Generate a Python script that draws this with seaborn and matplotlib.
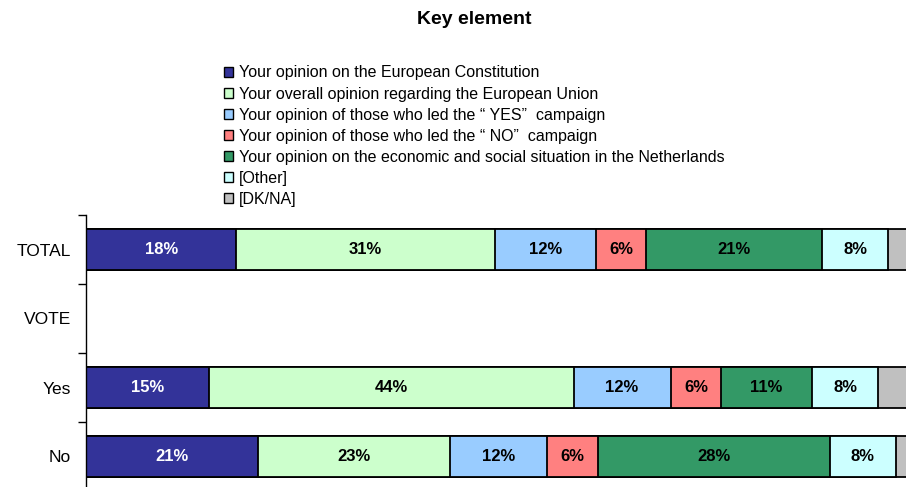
import pandas as pd
import numpy as np
import matplotlib
matplotlib.use('Agg')
import matplotlib.pyplot as plt
from matplotlib.patches import Patch
import seaborn as sns

# Data (segment widths estimated, labels rounded)
groups = ['TOTAL', 'Yes', 'No']
row_order = ['TOTAL', 'VOTE', 'Yes', 'No']
opinion_constitution = [18.0, 14.7, 20.6]
opinion_eu = [31.0, 43.7, 23.0]
yes_campaign = [12.1, 11.6, 11.6]
no_campaign = [6.0, 6.1, 6.1]
econ_social = [21.0, 10.8, 27.8]
other = [8.0, 8.0, 7.9]
dk_na = [4.0, 5.0, 3.0]

series_names = ['Your opinion on the European Constitution',
                'Your overall opinion regarding the European Union',
                'Your opinion of those who led the \u201c YES\u201d  campaign',
                'Your opinion of those who led the \u201c NO\u201d  campaign',
                'Your opinion on the economic and social situation in the Netherlands',
                '[Other]',
                '[DK/NA]']
series_values = [opinion_constitution, opinion_eu, yes_campaign, no_campaign,
                 econ_social, other, dk_na]
colors = ['#333399', '#CCFFCC', '#99CCFF', '#FF8080', '#339966', '#CCFFFF', '#C0C0C0']

sns.set_theme(style='white')
plt.rcParams['font.family'] = ['Liberation Sans', 'DejaVu Sans']
plt.rcParams['text.color'] = 'black'
plt.rcParams['ytick.color'] = 'black'

fig = plt.figure(figsize=(9.06, 4.87), dpi=100)
ax = fig.add_axes([86 / 906, -4 / 487, 835 / 906, 276 / 487])

vals = np.array(series_values, dtype=float)
cums = vals.cumsum(axis=0)

# stacked bars: draw cumulative totals from the longest to the shortest
for i in range(len(series_names) - 1, -1, -1):
    df = pd.DataFrame({'group': groups, 'value': cums[i]})
    sns.barplot(data=df, x='value', y='group', order=row_order, orient='h',
                color=colors[i], saturation=1, edgecolor='black', linewidth=1.3,
                width=0.6, ax=ax)

# value labels (DK/NA falls off the picture)
for i in range(len(series_names) - 1):
    for j, g in enumerate(groups):
        y = row_order.index(g)
        x = cums[i][j] - vals[i][j] / 2
        ax.text(x, y, f'{round(vals[i][j]):.0f}%', ha='center', va='center',
                fontsize=12, fontweight='bold',
                color='white' if i == 0 else 'black')

ax.set_xlim(0, 100)
ax.set_ylim(3.5, -0.5)
ax.set_xlabel('')
ax.set_ylabel('')
ax.set_xticks([])
for s in ['top', 'right', 'bottom']:
    ax.spines[s].set_visible(False)
ax.spines['left'].set_color('black')
ax.spines['left'].set_linewidth(1)
ax.set_yticks(range(len(row_order)))
ax.set_yticklabels(row_order, fontsize=12.5, color='black')
ax.set_yticks([-0.5, 0.5, 1.5, 2.5, 3.5], minor=True)
ax.tick_params(axis='y', which='major', length=0, pad=11)
ax.tick_params(axis='y', which='minor', length=6, width=1, color='black', left=True)

handles = [Patch(facecolor=c, edgecolor='black', linewidth=1) for c in colors]
fig.legend(handles, series_names, loc='upper left', bbox_to_anchor=(224 / 906, 1 - 65.5 / 487),
           frameon=False, fontsize=11.5, handlelength=0.58, handleheight=0.58,
           handletextpad=0.35, labelspacing=0.38, borderpad=0, borderaxespad=0,
           labelcolor='black')

fig.text(474 / 906, 1 - 19 / 487, 'Key element', ha='center', va='center',
         fontsize=14, fontweight='bold', color='black')

fig.savefig('out.png', dpi=100)
